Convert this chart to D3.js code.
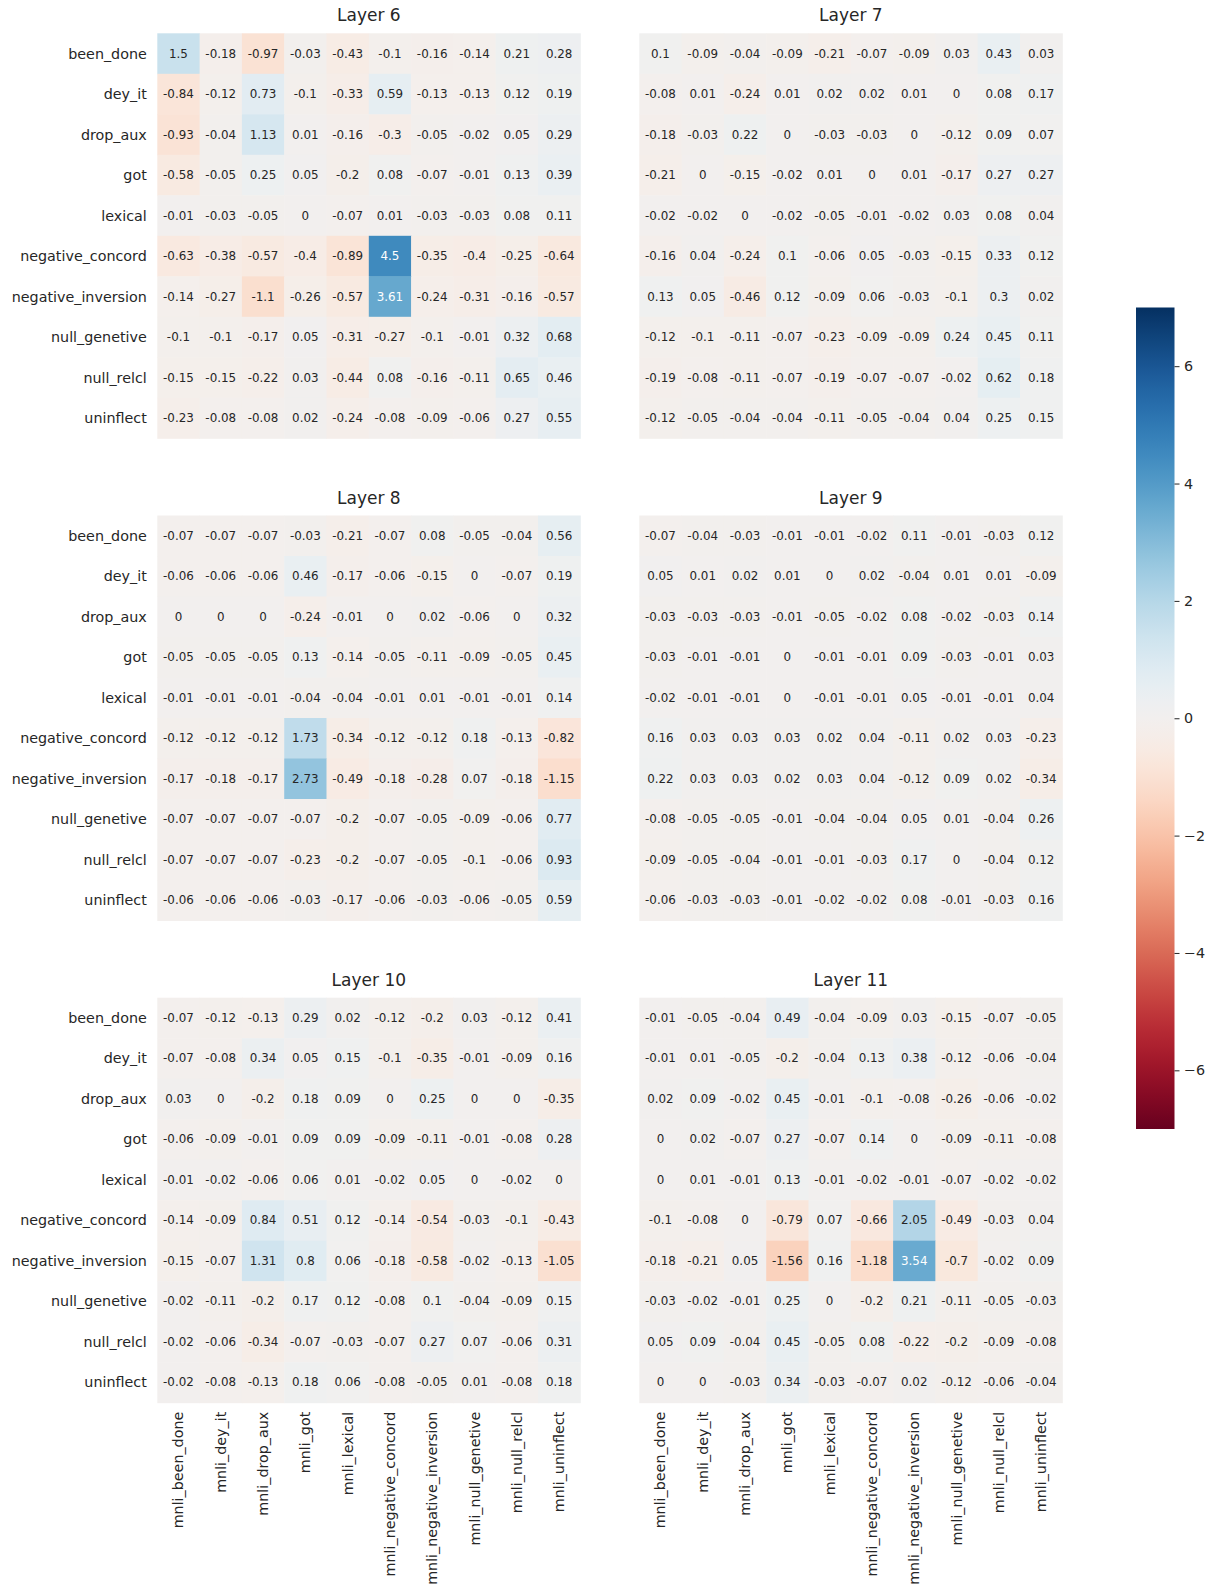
<!DOCTYPE html>
<html>
<head>
<meta charset="utf-8">
<script src="https://cdn.jsdelivr.net/npm/d3@7"></script>
<style>
  body { margin: 0; background: #fff; }
  svg { display: block; font-family: "DejaVu Sans", sans-serif; }
  .axis text { fill: #262626; font-size: 14.3px; font-family: "DejaVu Sans", sans-serif; }
  .axis path, .axis line { stroke: none; }
  .title { fill: #262626; font-size: 17px; text-anchor: middle; }
  .cell-label { font-size: 11.9px; text-anchor: middle; dominant-baseline: central; }
</style>
</head>
<body>
<svg id="chart" width="1214" height="1586"></svg>
<script>
const rows = ["been_done", "dey_it", "drop_aux", "got", "lexical", "negative_concord",
  "negative_inversion", "null_genetive", "null_relcl", "uninflect"];
const cols = ["mnli_been_done", "mnli_dey_it", "mnli_drop_aux", "mnli_got", "mnli_lexical",
  "mnli_negative_concord", "mnli_negative_inversion", "mnli_null_genetive", "mnli_null_relcl", "mnli_uninflect"];

const layer6 = [
  [1.5, -0.18, -0.97, -0.03, -0.43, -0.1, -0.16, -0.14, 0.21, 0.28],
  [-0.84, -0.12, 0.73, -0.1, -0.33, 0.59, -0.13, -0.13, 0.12, 0.19],
  [-0.93, -0.04, 1.13, 0.01, -0.16, -0.3, -0.05, -0.02, 0.05, 0.29],
  [-0.58, -0.05, 0.25, 0.05, -0.2, 0.08, -0.07, -0.01, 0.13, 0.39],
  [-0.01, -0.03, -0.05, 0, -0.07, 0.01, -0.03, -0.03, 0.08, 0.11],
  [-0.63, -0.38, -0.57, -0.4, -0.89, 4.5, -0.35, -0.4, -0.25, -0.64],
  [-0.14, -0.27, -1.1, -0.26, -0.57, 3.61, -0.24, -0.31, -0.16, -0.57],
  [-0.1, -0.1, -0.17, 0.05, -0.31, -0.27, -0.1, -0.01, 0.32, 0.68],
  [-0.15, -0.15, -0.22, 0.03, -0.44, 0.08, -0.16, -0.11, 0.65, 0.46],
  [-0.23, -0.08, -0.08, 0.02, -0.24, -0.08, -0.09, -0.06, 0.27, 0.55]
];
const layer7 = [
  [0.1, -0.09, -0.04, -0.09, -0.21, -0.07, -0.09, 0.03, 0.43, 0.03],
  [-0.08, 0.01, -0.24, 0.01, 0.02, 0.02, 0.01, 0, 0.08, 0.17],
  [-0.18, -0.03, 0.22, 0, -0.03, -0.03, 0, -0.12, 0.09, 0.07],
  [-0.21, 0, -0.15, -0.02, 0.01, 0, 0.01, -0.17, 0.27, 0.27],
  [-0.02, -0.02, 0, -0.02, -0.05, -0.01, -0.02, 0.03, 0.08, 0.04],
  [-0.16, 0.04, -0.24, 0.1, -0.06, 0.05, -0.03, -0.15, 0.33, 0.12],
  [0.13, 0.05, -0.46, 0.12, -0.09, 0.06, -0.03, -0.1, 0.3, 0.02],
  [-0.12, -0.1, -0.11, -0.07, -0.23, -0.09, -0.09, 0.24, 0.45, 0.11],
  [-0.19, -0.08, -0.11, -0.07, -0.19, -0.07, -0.07, -0.02, 0.62, 0.18],
  [-0.12, -0.05, -0.04, -0.04, -0.11, -0.05, -0.04, 0.04, 0.25, 0.15]
];
const layer8 = [
  [-0.07, -0.07, -0.07, -0.03, -0.21, -0.07, 0.08, -0.05, -0.04, 0.56],
  [-0.06, -0.06, -0.06, 0.46, -0.17, -0.06, -0.15, 0, -0.07, 0.19],
  [0, 0, 0, -0.24, -0.01, 0, 0.02, -0.06, 0, 0.32],
  [-0.05, -0.05, -0.05, 0.13, -0.14, -0.05, -0.11, -0.09, -0.05, 0.45],
  [-0.01, -0.01, -0.01, -0.04, -0.04, -0.01, 0.01, -0.01, -0.01, 0.14],
  [-0.12, -0.12, -0.12, 1.73, -0.34, -0.12, -0.12, 0.18, -0.13, -0.82],
  [-0.17, -0.18, -0.17, 2.73, -0.49, -0.18, -0.28, 0.07, -0.18, -1.15],
  [-0.07, -0.07, -0.07, -0.07, -0.2, -0.07, -0.05, -0.09, -0.06, 0.77],
  [-0.07, -0.07, -0.07, -0.23, -0.2, -0.07, -0.05, -0.1, -0.06, 0.93],
  [-0.06, -0.06, -0.06, -0.03, -0.17, -0.06, -0.03, -0.06, -0.05, 0.59]
];
const layer9 = [
  [-0.07, -0.04, -0.03, -0.01, -0.01, -0.02, 0.11, -0.01, -0.03, 0.12],
  [0.05, 0.01, 0.02, 0.01, 0, 0.02, -0.04, 0.01, 0.01, -0.09],
  [-0.03, -0.03, -0.03, -0.01, -0.05, -0.02, 0.08, -0.02, -0.03, 0.14],
  [-0.03, -0.01, -0.01, 0, -0.01, -0.01, 0.09, -0.03, -0.01, 0.03],
  [-0.02, -0.01, -0.01, 0, -0.01, -0.01, 0.05, -0.01, -0.01, 0.04],
  [0.16, 0.03, 0.03, 0.03, 0.02, 0.04, -0.11, 0.02, 0.03, -0.23],
  [0.22, 0.03, 0.03, 0.02, 0.03, 0.04, -0.12, 0.09, 0.02, -0.34],
  [-0.08, -0.05, -0.05, -0.01, -0.04, -0.04, 0.05, 0.01, -0.04, 0.26],
  [-0.09, -0.05, -0.04, -0.01, -0.01, -0.03, 0.17, 0, -0.04, 0.12],
  [-0.06, -0.03, -0.03, -0.01, -0.02, -0.02, 0.08, -0.01, -0.03, 0.16]
];
const layer10 = [
  [-0.07, -0.12, -0.13, 0.29, 0.02, -0.12, -0.2, 0.03, -0.12, 0.41],
  [-0.07, -0.08, 0.34, 0.05, 0.15, -0.1, -0.35, -0.01, -0.09, 0.16],
  [0.03, 0, -0.2, 0.18, 0.09, 0, 0.25, 0, 0, -0.35],
  [-0.06, -0.09, -0.01, 0.09, 0.09, -0.09, -0.11, -0.01, -0.08, 0.28],
  [-0.01, -0.02, -0.06, 0.06, 0.01, -0.02, 0.05, 0, -0.02, 0],
  [-0.14, -0.09, 0.84, 0.51, 0.12, -0.14, -0.54, -0.03, -0.1, -0.43],
  [-0.15, -0.07, 1.31, 0.8, 0.06, -0.18, -0.58, -0.02, -0.13, -1.05],
  [-0.02, -0.11, -0.2, 0.17, 0.12, -0.08, 0.1, -0.04, -0.09, 0.15],
  [-0.02, -0.06, -0.34, -0.07, -0.03, -0.07, 0.27, 0.07, -0.06, 0.31],
  [-0.02, -0.08, -0.13, 0.18, 0.06, -0.08, -0.05, 0.01, -0.08, 0.18]
];
const layer11 = [
  [-0.01, -0.05, -0.04, 0.49, -0.04, -0.09, 0.03, -0.15, -0.07, -0.05],
  [-0.01, 0.01, -0.05, -0.2, -0.04, 0.13, 0.38, -0.12, -0.06, -0.04],
  [0.02, 0.09, -0.02, 0.45, -0.01, -0.1, -0.08, -0.26, -0.06, -0.02],
  [0, 0.02, -0.07, 0.27, -0.07, 0.14, 0, -0.09, -0.11, -0.08],
  [0, 0.01, -0.01, 0.13, -0.01, -0.02, -0.01, -0.07, -0.02, -0.02],
  [-0.1, -0.08, 0, -0.79, 0.07, -0.66, 2.05, -0.49, -0.03, 0.04],
  [-0.18, -0.21, 0.05, -1.56, 0.16, -1.18, 3.54, -0.7, -0.02, 0.09],
  [-0.03, -0.02, -0.01, 0.25, 0, -0.2, 0.21, -0.11, -0.05, -0.03],
  [0.05, 0.09, -0.04, 0.45, -0.05, 0.08, -0.22, -0.2, -0.09, -0.08],
  [0, 0, -0.03, 0.34, -0.03, -0.07, 0.02, -0.12, -0.06, -0.04]
];

const layerNames = ["Layer 6", "Layer 7", "Layer 8", "Layer 9", "Layer 10", "Layer 11"];
const layerValues = [layer6, layer7, layer8, layer9, layer10, layer11];
const colorTicks = [-6, -4, -2, 0, 2, 4, 6];

const svg = d3.select("#chart");

// panel grid (3 rows x 2 cols)
const panelLeft = [157.3, 639.3];
const panelTop = [33.3, 515.5, 997.7];
const panelW = 423, panelH = 405;

const color = d3.scaleSequential(t => d3.interpolateRdBu(t)).domain([-7, 7]);

// seaborn style: dark text on light cells, white on dark ones
function textColor(c) {
  const rgb = d3.rgb(c);
  const lin = v => { v /= 255; return v <= 0.03928 ? v / 12.92 : Math.pow((v + 0.055) / 1.055, 2.4); };
  const lum = 0.2126 * lin(rgb.r) + 0.7152 * lin(rgb.g) + 0.0722 * lin(rgb.b);
  return lum > 0.408 ? "#262626" : "#ffffff";
}

function drawPanel(idx) {
  const pr = Math.floor(idx / 2), pc = idx % 2;
  const x0 = panelLeft[pc], y0 = panelTop[pr];
  const values = layerValues[idx];

  const x = d3.scaleBand().domain(cols).range([0, panelW]);
  const y = d3.scaleBand().domain(rows).range([0, panelH]);

  const g = svg.append("g").attr("transform", `translate(${x0},${y0})`);

  const cells = [];
  values.forEach((row, i) => row.forEach((v, j) => cells.push({ r: rows[i], c: cols[j], v })));

  g.selectAll("rect")
    .data(cells)
    .enter()
    .append("rect")
    .attr("x", d => x(d.c))
    .attr("y", d => y(d.r))
    .attr("width", x.bandwidth() + 0.5)
    .attr("height", y.bandwidth() + 0.5)
    .attr("fill", d => color(d.v));

  g.selectAll("text.cell-label")
    .data(cells)
    .enter()
    .append("text")
    .attr("class", "cell-label")
    .attr("x", d => x(d.c) + x.bandwidth() / 2)
    .attr("y", d => y(d.r) + y.bandwidth() / 2)
    .attr("fill", d => textColor(color(d.v)))
    .text(d => String(d.v));

  g.append("text")
    .attr("class", "title")
    .attr("x", panelW / 2)
    .attr("y", -12)
    .text(layerNames[idx]);

  if (pc === 0) {
    g.append("g")
      .attr("class", "axis")
      .call(d3.axisLeft(y).tickSize(0).tickPadding(10.5))
      .selectAll("text")
      .attr("dy", "0.35em");
  }

  if (pr === 2) {
    g.append("g")
      .attr("class", "axis")
      .attr("transform", `translate(0,${panelH})`)
      .call(d3.axisBottom(x).tickSize(0).tickPadding(0))
      .selectAll("text")
      .attr("transform", "rotate(-90)")
      .attr("text-anchor", "end")
      .attr("x", -9)
      .attr("y", 0)
      .attr("dy", "0.35em");
  }
}

layerNames.forEach((_, i) => drawPanel(i));

// colorbar
function drawColorbar() {
  const cbX = 1136, cbW = 38.5;
  const cy = d3.scaleLinear().domain([-7, 7]).range([1129, 307.5]);

  const grad = svg.append("defs").append("linearGradient")
    .attr("id", "cbGrad")
    .attr("x1", 0).attr("y1", 1).attr("x2", 0).attr("y2", 0);
  d3.range(0, 1.0001, 0.02).forEach(t => {
    grad.append("stop")
      .attr("offset", t)
      .attr("stop-color", color(-7 + 14 * t));
  });

  svg.append("rect")
    .attr("x", cbX)
    .attr("y", cy(7))
    .attr("width", cbW)
    .attr("height", cy(-7) - cy(7))
    .attr("fill", "url(#cbGrad)");

  const ax = svg.append("g")
    .attr("class", "axis")
    .attr("transform", `translate(${cbX + cbW},0)`)
    .call(d3.axisRight(cy).tickValues(colorTicks).tickSize(5).tickPadding(4.5)
      .tickFormat(d => d < 0 ? "\u2212" + Math.abs(d) : String(d)));
  ax.selectAll("line").style("stroke", "#262626").style("stroke-width", 1);
}

drawColorbar();
</script>
</body>
</html>
